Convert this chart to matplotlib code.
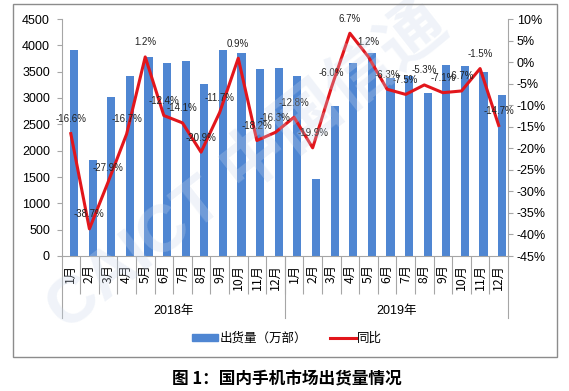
import matplotlib.pyplot as plt
import matplotlib.patches as mpatches
from matplotlib.lines import Line2D
import numpy as np

plt.rcParams['font.family'] = ['Liberation Sans', 'Noto Sans CJK SC', 'DejaVu Sans']

months = ['1月', '2月', '3月', '4月', '5月', '6月', '7月', '8月', '9月', '10月', '11月', '12月'] * 2
years = ['2018年', '2019年']
shipments = [3910, 1820, 3020, 3425, 3785, 3670, 3700, 3265, 3910, 3860, 3545, 3570,
             3415, 1460, 2850, 3660, 3860, 3380, 3420, 3090, 3620, 3610, 3500, 3050]
yoy = [-16.6, -38.7, -27.9, -16.7, 1.2, -12.4, -14.1, -20.9, -11.7, 0.9, -18.2, -16.3,
       -12.8, -19.9, -6.0, 6.7, 1.2, -6.3, -7.5, -5.3, -7.1, -6.7, -1.5, -14.7]

bar_color = '#4F86D2'
line_color = '#E2161C'
axis_color = '#A6A6A6'

fig = plt.figure(figsize=(5.69, 3.91), dpi=100)

# faint watermark
fig.text(0.436, 0.57, 'CAICT 中国信通', fontsize=48, rotation=38, color='#C9D6EA',
         alpha=0.28, ha='center', va='center', weight='bold', zorder=0)

ax = fig.add_axes([61.5/569, 1 - 256/391, (508 - 61.5)/569, 237/391])
ax.patch.set_alpha(0)
x = np.arange(len(shipments))
ax.bar(x + 0.18, shipments, width=0.44, color=bar_color, zorder=2)
ax.set_xlim(-0.5, 23.5)
ax.set_ylim(0, 4500)
ax.set_yticks(np.arange(0, 4501, 500))
ax.tick_params(axis='y', labelsize=9, length=3.3, pad=5, color=axis_color)

ax.set_xticks(x)
ax.set_xticklabels(months, rotation=90, fontsize=8.8, family=['Noto Sans CJK SC'])
ax.tick_params(axis='x', which='major', length=0, pad=6)
ax.set_xticks(np.arange(0.5, 23, 1), minor=True)
ax.tick_params(axis='x', which='minor', length=27, color=axis_color, width=0.8)

for side in ['top', 'right']:
    ax.spines[side].set_visible(False)
for side in ['left', 'bottom']:
    ax.spines[side].set_color(axis_color)

trans = ax.get_xaxis_transform()
for xb in [-0.5, 11.5, 23.5]:
    ax.plot([xb, xb], [0, -0.262], transform=trans, color=axis_color, lw=0.8, clip_on=False)
for i, yr in enumerate(years):
    ax.text(5.5 + 12 * i, -0.232, yr, transform=trans, ha='center', va='center', fontsize=9,
            family=['Liberation Sans', 'Noto Sans CJK SC'])

ax2 = ax.twinx()
ax2.plot(x, yoy, color=line_color, lw=2.2, zorder=3)
ax2.set_ylim(-45, 10)
ax2.set_yticks(np.arange(-45, 11, 5))
ax2.set_yticklabels([f'{v}%' for v in range(-45, 11, 5)])
ax2.tick_params(axis='y', labelsize=9, length=3.3, pad=3, color=axis_color)
for side in ['top', 'left', 'bottom']:
    ax2.spines[side].set_visible(False)
ax2.spines['right'].set_color(axis_color)

for i, v in enumerate(yoy):
    ax2.annotate(f'{v:.1f}%', (i, v), xytext=(0, 10.5), textcoords='offset points',
                 ha='center', va='center', fontsize=7, color='#222222')

handles = [mpatches.Patch(color=bar_color), Line2D([0], [0], color=line_color, lw=2.2)]
fig.legend(handles, ['出货量（万部）', '同比'], loc='center', bbox_to_anchor=(287/569, 1 - 338/391),
           ncol=2, frameon=False, prop={'family': 'Noto Sans CJK SC', 'size': 9},
           handlelength=2.1, handleheight=0.5, handletextpad=0.1, columnspacing=1.8)

fig.patches.append(mpatches.Rectangle((13/569, 1 - 357/391), (557 - 13)/569, (357 - 4)/391,
                                      transform=fig.transFigure, fill=False,
                                      edgecolor='#8C8C8C', lw=1))

fig.text(287/569, 1 - 378/391, '图 1：国内手机市场出货量情况', ha='center', va='center',
         fontsize=12, weight='black', family=['Noto Sans CJK SC'])

fig.savefig('out.png', dpi=100)
